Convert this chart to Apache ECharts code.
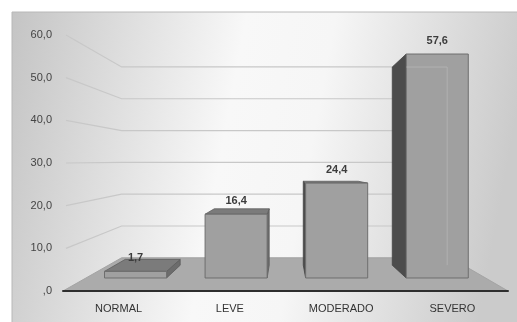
<!DOCTYPE html>
<html><head><meta charset="utf-8">
<script src="https://cdn.jsdelivr.net/npm/echarts@6/dist/echarts.min.js"></script>
<style>html,body{margin:0;padding:0;background:#fff;}#c{width:517px;height:322px;}</style>
</head><body><div id="c"></div>
<script>
var categories = ['NORMAL', 'LEVE', 'MODERADO', 'SEVERO'];
var values = [1.7, 16.4, 24.4, 57.6];
var valueLabels = ['1,7', '16,4', '24,4', '57,6'];
var gridValues = [0, 10, 20, 30, 40, 50, 60];
var yTickLabels = [',0', '10,0', '20,0', '30,0', '40,0', '50,0', '60,0'];

// perspective helpers (vanishing point and plane factors)
var V = [285, 167];
var K_BACK = 0.885, K_WALL = 0.818;
function toBar(p) { return [0.904 * p[0] + 28.3, 0.9113 * p[1] + 12.8]; }
function depth(p, k) { return [V[0] + k * (p[0] - V[0]), V[1] + k * (p[1] - V[1])]; }

function renderWall(params, api) {
  var v = api.value(1);
  var cs = params.coordSys;
  var yA = api.coord([0, v])[1];
  var left = toBar([cs.x, yA]), right = toBar([cs.x + cs.width, yA]);
  var bl = depth(left, K_WALL), br = depth(right, K_WALL);
  var children = [];
  if (v === 0) {
    children.push({ type: 'polygon', shape: { points: [[cs.x, yA], [cs.x + cs.width, yA], br, bl] },
      style: { fill: '#ababab', stroke: '#a4a4a4', lineWidth: 1 } });
  } else {
    children.push({ type: 'polyline', shape: { points: [[cs.x + 3, yA], bl, br] },
      style: { stroke: '#c8c8c8', lineWidth: 1.2, fill: null } });
  }
  return { type: 'group', children: children };
}

function renderBar(params, api) {
  var i = api.value(0), v = api.value(1);
  var c0 = api.coord([i, 0]), c1 = api.coord([i, v]);
  var hw = api.size([1, 0])[0] * 0.617 / 2;
  var FL = toBar([c0[0] - hw, c0[1]]), FR = toBar([c0[0] + hw, c0[1]]);
  var TL = toBar([c0[0] - hw, c1[1]]), TR = toBar([c0[0] + hw, c1[1]]);
  var bFL = depth(FL, K_BACK), bFR = depth(FR, K_BACK), bTL = depth(TL, K_BACK), bTR = depth(TR, K_BACK);
  var ch = [];
  if (bTL[0] < TL[0] - 0.5) {
    ch.push({ type: 'polygon', shape: { points: [TL, bTL, bFL, FL] }, style: { fill: '#4c4c4c', stroke: '#444', lineWidth: 0.8 } });
  }
  if (bTR[0] > TR[0] + 0.5) {
    ch.push({ type: 'polygon', shape: { points: [TR, bTR, bFR, FR] }, style: { fill: '#6c6c6c', stroke: '#5a5a5a', lineWidth: 0.8 } });
  }
  if (bTL[1] < TL[1]) {
    ch.push({ type: 'polygon', shape: { points: [TL, TR, bTR, bTL] }, style: { fill: '#7b7b7b', stroke: '#5e5e5e', lineWidth: 0.8 } });
  }
  ch.push({ type: 'polygon', shape: { points: [TL, TR, FR, FL] }, style: { fill: '#a0a0a0', stroke: '#6e6e6e', lineWidth: 1 } });
  if (bTL[1] > TL[1]) {
    ch.push({ type: 'polyline', shape: { points: [[bTL[0] + 14, bTL[1]], bTR, [bTR[0], bFR[1]]] }, style: { stroke: 'rgba(190,190,190,0.55)', lineWidth: 1, fill: null } });
  }
  ch.push({ type: 'text', x: (TL[0] + TR[0]) / 2, y: TL[1] - 13,
    style: { text: valueLabels[i], fill: '#3c3c3c', font: 'bold 11px "Liberation Sans", Arial, sans-serif', align: 'center', verticalAlign: 'middle' } });
  return { type: 'group', children: ch };
}

var chart = echarts.init(document.getElementById('c'), null, { renderer: 'canvas' });
chart.setOption({
  animation: false,
  graphic: [{
    type: 'rect', z: -10, shape: { x: 12, y: 12, width: 506, height: 311 },
    style: {
      fill: { type: 'linear', x: 0, y: 0, x2: 1, y2: 0.3, colorStops: [
        { offset: 0, color: '#c4c4c4' }, { offset: 0.45, color: '#f8f8f8' },
        { offset: 0.62, color: '#f6f6f6' }, { offset: 1, color: '#cbcbcb' }] },
      stroke: '#b8b8b8', lineWidth: 1
    }
  }],
  grid: { left: 63, right: 9, top: 35, bottom: 31 },
  xAxis: {
    type: 'category', data: categories, z: 5,
    axisLine: { lineStyle: { color: '#2e2e2e', width: 2 } },
    axisTick: { show: false },
    axisLabel: { color: '#333', fontSize: 11, margin: 12, fontFamily: '"Liberation Sans", Arial, sans-serif' }
  },
  yAxis: {
    type: 'value', min: 0, max: 60, interval: 10,
    axisLine: { show: false }, axisTick: { show: false }, splitLine: { show: false },
    axisLabel: { color: '#444', fontSize: 11, margin: 11, fontFamily: '"Liberation Sans", Arial, sans-serif',
      formatter: function (v) { var j = gridValues.indexOf(v); return j >= 0 ? yTickLabels[j] : ''; } }
  },
  series: [
    { type: 'custom', z: 1, silent: true, renderItem: renderWall, encode: { x: 0, y: 1 },
      data: gridValues.map(function (v) { return [0, v]; }) },
    { type: 'custom', z: 3, silent: true, renderItem: renderBar, encode: { x: 0, y: 1 },
      data: values.map(function (v, i) { return [i, v]; }) }
  ]
});
</script></body></html>
